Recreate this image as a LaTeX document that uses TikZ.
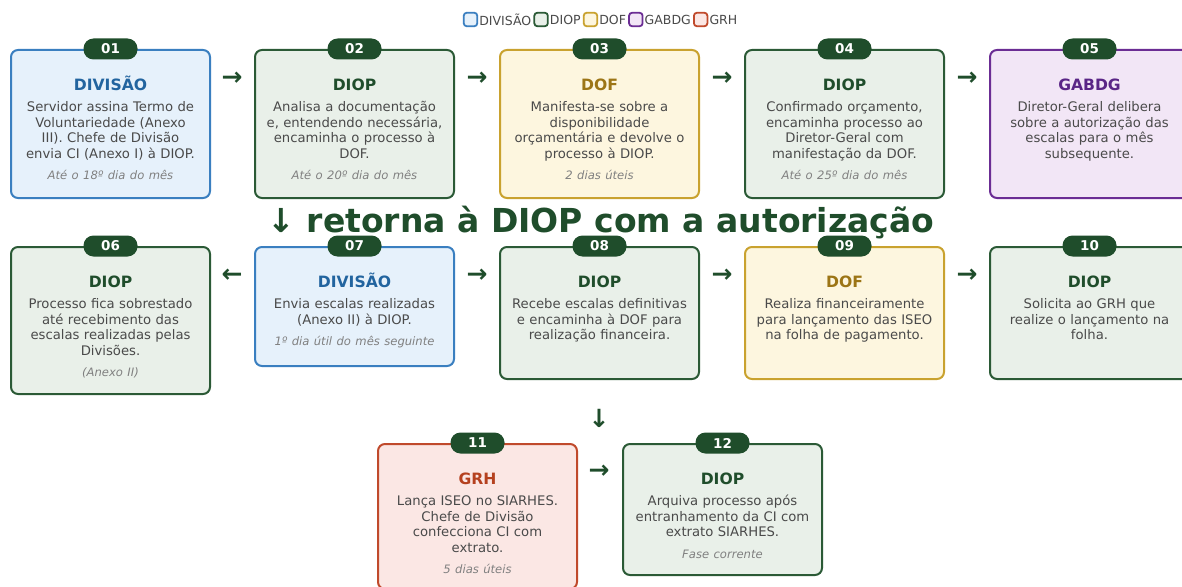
\documentclass[tikz,border=0pt]{standalone}
\usepackage{fontspec}
\setmainfont{DejaVu Sans}
\usetikzlibrary{positioning}
\definecolor{divB}{HTML}{3A7FC0}
\definecolor{divF}{HTML}{E6F1FB}
\definecolor{divT}{HTML}{22649F}
\definecolor{dioB}{HTML}{2B5A36}
\definecolor{dioF}{HTML}{E9F0E9}
\definecolor{dioT}{HTML}{1F4D2B}
\definecolor{dofB}{HTML}{C9A22F}
\definecolor{dofF}{HTML}{FDF6DF}
\definecolor{dofT}{HTML}{9C7516}
\definecolor{gabB}{HTML}{6B2D94}
\definecolor{gabF}{HTML}{F2E6F6}
\definecolor{gabT}{HTML}{5A2586}
\definecolor{grhB}{HTML}{C04A2C}
\definecolor{grhF}{HTML}{FBE7E4}
\definecolor{grhT}{HTML}{B5411F}
\definecolor{badgeC}{HTML}{1F4D2B}
\definecolor{bodytxt}{HTML}{4A4A4A}
\definecolor{notetxt}{HTML}{808080}
\definecolor{legtxtC}{HTML}{4A4A4A}
\tikzset{
  card/.style={rectangle, rounded corners=7pt, line width=2pt, anchor=north west, inner sep=0pt, minimum width=199pt},
  badge/.style={rectangle, rounded corners=10pt, fill=badgeC, text=white, minimum width=54pt, minimum height=21pt, inner sep=0pt, font=\fontsize{13.5}{13.5}\selectfont\bfseries},
  cardtitle/.style={anchor=base, inner sep=0pt, font=\fontsize{15.6}{18}\selectfont\bfseries},
  cardbody/.style={anchor=base, inner sep=0pt, text width=199pt, align=center, text=bodytxt, font=\fontsize{13.2}{15.6}\selectfont},
  flowarrow/.style={inner sep=0pt, text=badgeC, font=\fontsize{25}{25}\selectfont\bfseries},
  legsq/.style={rectangle, rounded corners=3pt, line width=1.8pt, minimum width=13.5pt, minimum height=13.5pt, inner sep=0pt},
  legtxt/.style={inner sep=1pt, text=legtxtC, font=\fontsize{12.5}{14}\selectfont},
}
\newcommand\cardnote[1]{\\[6pt]{\fontsize{11.6}{13}\selectfont\itshape\color{notetxt}#1}}
% name, left, top, bottom, kind, number, title, body
\newcommand\stepcard[8]{%
  \node[card, draw=#5B, fill=#5F, minimum height={(#4-#3)*1pt}] (#1) at (#2,#3) {};
  \node[badge] (#1n) at (#1.north) {#6};
  \node[cardtitle, text=#5T] (#1t) at ([yshift=-41.7pt]#1.north) {#7};
  \node[cardbody] (#1b) at ([yshift=-62.5pt]#1.north) {#8};
}
\begin{document}
\begin{tikzpicture}[x=1pt,y=-1pt]
\useasboundingbox (0,0) rectangle (1182,586);
\clip (0,0) rectangle (1182,586);
\fill[white] (0,0) rectangle (1182,586);

% legend
\node[legsq, draw=divB, fill=divF] (l1) at (470.5,19.5) {};
\node[legtxt, right=0pt of l1] (lt1) {DIVISÃO};
\node[legsq, draw=dioB, fill=dioF, right=1pt of lt1] (l2) {};
\node[legtxt, right=0pt of l2] (lt2) {DIOP};
\node[legsq, draw=dofB, fill=dofF, right=1pt of lt2] (l3) {};
\node[legtxt, right=0pt of l3] (lt3) {DOF};
\node[legsq, draw=gabB, fill=gabF, right=1pt of lt3] (l4) {};
\node[legtxt, right=0pt of l4] (lt4) {GABDG};
\node[legsq, draw=grhB, fill=grhF, right=1pt of lt4] (l5) {};
\node[legtxt, right=0pt of l5] (lt5) {GRH};

% return text
\node[anchor=base, text=badgeC, inner sep=0pt, font=\fontsize{33}{36}\selectfont\bfseries] (ret) at (601,232) {↓ retorna à DIOP com a autorização};

% row 1
\stepcard{c1}{10}{49}{197}{div}{01}{DIVISÃO}{Servidor assina Termo de\\Voluntariedade (Anexo\\III). Chefe de Divisão\\envia CI (Anexo I) à DIOP.\cardnote{Até o 18º dia do mês}}
\stepcard{c2}{254}{49}{197}{dio}{02}{DIOP}{Analisa a documentação\\e, entendendo necessária,\\encaminha o processo à\\DOF.\cardnote{Até o 20º dia do mês}}
\stepcard{c3}{499}{49}{197}{dof}{03}{DOF}{Manifesta-se sobre a\\disponibilidade\\orçamentária e devolve o\\processo à DIOP.\cardnote{2 dias úteis}}
\stepcard{c4}{744}{49}{197}{dio}{04}{DIOP}{Confirmado orçamento,\\encaminha processo ao\\Diretor-Geral com\\manifestação da DOF.\cardnote{Até o 25º dia do mês}}
\stepcard{c5}{989}{49}{197}{gab}{05}{GABDG}{Diretor-Geral delibera\\sobre a autorização das\\escalas para o mês\\subsequente.}

% row 2
\stepcard{c6}{10}{246}{393}{dio}{06}{DIOP}{Processo fica sobrestado\\até recebimento das\\escalas realizadas pelas\\Divisões.\cardnote{(Anexo II)}}
\stepcard{c7}{254}{246}{365}{div}{07}{DIVISÃO}{Envia escalas realizadas\\(Anexo II) à DIOP.\cardnote{1º dia útil do mês seguinte}}
\stepcard{c8}{499}{246}{378}{dio}{08}{DIOP}{Recebe escalas definitivas\\e encaminha à DOF para\\realização financeira.}
\stepcard{c9}{744}{246}{378}{dof}{09}{DOF}{Realiza financeiramente\\para lançamento das ISEO\\na folha de pagamento.}
\stepcard{c10}{989}{246}{378}{dio}{10}{DIOP}{Solicita ao GRH que\\realize o lançamento na\\folha.}

% row 3
\stepcard{c11}{377}{443}{588}{grh}{11}{GRH}{Lança ISEO no SIARHES.\\Chefe de Divisão\\confecciona CI com\\extrato.\cardnote{5 dias úteis}}
\stepcard{c12}{622}{443}{574}{dio}{12}{DIOP}{Arquiva processo após\\entranhamento da CI com\\extrato SIARHES.\cardnote{Fase corrente}}

% flow arrows
\node[flowarrow] (a12) at (232,79) {→};
\node[flowarrow] (a23) at (477,79) {→};
\node[flowarrow] (a34) at (722,79) {→};
\node[flowarrow] (a45) at (967,79) {→};
\node[flowarrow] (a76) at (232,276) {←};
\node[flowarrow] (a78) at (477,276) {→};
\node[flowarrow] (a89) at (722,276) {→};
\node[flowarrow] (a910) at (967,276) {→};
\node[flowarrow] (adown) at (599,418) {↓};
\node[flowarrow] (a1112) at (599,472) {→};
\end{tikzpicture}
\end{document}
